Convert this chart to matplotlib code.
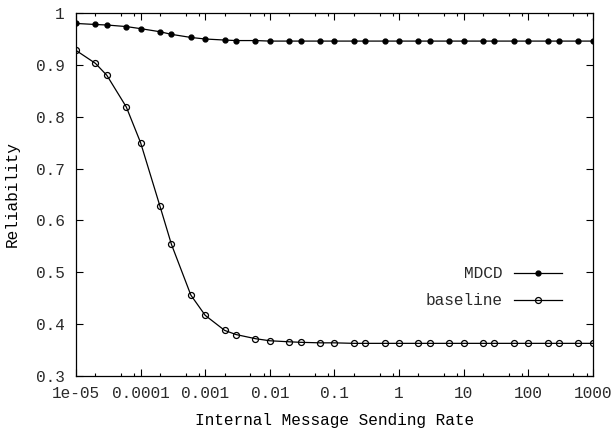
import numpy as np
import matplotlib
matplotlib.use("Agg")
import matplotlib.pyplot as plt
from matplotlib.ticker import LogLocator, NullFormatter

# --- datos ---
rate = [1e-05, 2e-05, 3e-05, 6e-05,
        1e-04, 2e-04, 3e-04, 6e-04,
        1e-03, 2e-03, 3e-03, 6e-03,
        1e-02, 2e-02, 3e-02, 6e-02,
        1e-01, 2e-01, 3e-01, 6e-01,
        1, 2, 3, 6,
        10, 20, 30, 60,
        100, 200, 300, 600,
        1000]

mdcd = [0.980, 0.978, 0.977, 0.974,
        0.970, 0.964, 0.959, 0.953,
        0.950, 0.948, 0.947, 0.947,
        0.946, 0.946, 0.946, 0.946,
        0.946, 0.946, 0.946, 0.946,
        0.946, 0.946, 0.946, 0.946,
        0.946, 0.946, 0.946, 0.946,
        0.946, 0.946, 0.946, 0.946,
        0.946]

baseline = [0.928, 0.903, 0.880, 0.819,
            0.750, 0.627, 0.554, 0.456,
            0.417, 0.388, 0.380, 0.372,
            0.368, 0.366, 0.365, 0.364,
            0.364, 0.363, 0.363, 0.363,
            0.363, 0.363, 0.363, 0.363,
            0.363, 0.363, 0.363, 0.363,
            0.363, 0.363, 0.363, 0.363,
            0.363]

xticks = [1e-05, 1e-04, 1e-03, 1e-02, 1e-01, 1, 10, 100, 1000]
xticklabels = ["1e-05", "0.0001", "0.001", "0.01", "0.1", "1", "10", "100", "1000"]
yticks = [0.3, 0.4, 0.5, 0.6, 0.7, 0.8, 0.9, 1.0]
yticklabels = ["0.3", "0.4", "0.5", "0.6", "0.7", "0.8", "0.9", "1"]

plt.rcParams['font.family'] = ['Liberation Mono', 'DejaVu Sans Mono']
plt.rcParams['font.size'] = 11.6
plt.rcParams['text.color'] = '#2a2a2a'
plt.rcParams['xtick.labelcolor'] = '#2a2a2a'
plt.rcParams['ytick.labelcolor'] = '#2a2a2a'

fig = plt.figure(figsize=(6.13, 4.29), dpi=100)
ax = fig.add_axes([0.124, 0.1235, 0.843, 0.846])

ax.plot(rate, mdcd, color="black", lw=0.9, marker="o", ms=3.5,
        mfc="black", mec="black", label="MDCD")
ax.plot(rate, baseline, color="black", lw=0.9, marker="o", ms=4.3,
        mfc="none", mec="black", mew=0.9, label="baseline")

ax.set_xscale("log")
ax.set_xlim(1e-05, 1000)
ax.set_ylim(0.3, 1.0)
ax.set_xticks(xticks)
ax.set_xticklabels(xticklabels)
ax.xaxis.set_minor_locator(LogLocator(base=10, subs=(2, 5, 8), numticks=20))
ax.xaxis.set_minor_formatter(NullFormatter())
ax.set_yticks(yticks)
ax.set_yticklabels(yticklabels)

ax.tick_params(which="both", direction="in", top=True, right=True, width=0.8)
ax.tick_params(which="major", length=5)
ax.tick_params(axis="x", which="major", pad=7.5)
ax.tick_params(axis="y", which="major", pad=8)
ax.tick_params(which="minor", length=2.5)
for s in ax.spines.values():
    s.set_linewidth(0.9)

ax.set_xlabel("Internal Message Sending Rate", labelpad=8)
ax.set_ylabel("Reliability", labelpad=12)

leg = ax.legend(loc="lower right", bbox_to_anchor=(0.962, 0.155), frameon=False,
                markerfirst=False, handlelength=3.0, handletextpad=0.7,
                labelspacing=0.75, borderpad=0.2)
for t in leg.get_texts():
    t.set_ha("right")

fig.savefig("out.png", dpi=100)
